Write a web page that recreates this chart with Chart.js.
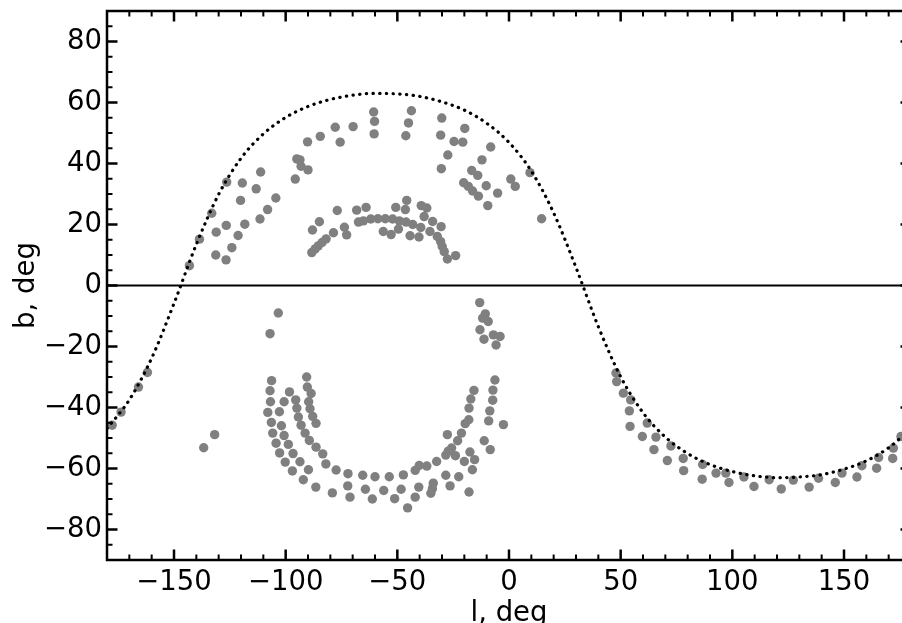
<!DOCTYPE html>
<html>
<head>
<meta charset="utf-8">
<script src="https://cdn.jsdelivr.net/npm/chart.js@4/dist/chart.umd.min.js"></script>
<style>
  html, body { margin: 0; padding: 0; background: #fff; overflow: hidden; }
  canvas { display: block; }
</style>
</head>
<body>
<canvas id="galChart" width="920" height="640"></canvas>
<script>
// tick labels
const xTicks = [-150, -100, -50, 0, 50, 100, 150];
const yTicks = [-80, -60, -40, -20, 0, 20, 40, 60, 80];

// dotted great circle, every 10 deg
const curveL = [-180, -170, -160, -150, -140, -130, -120, -110, -100, -90, -80, -70, -60, -50, -40, -30, -20, -10,
  0, 10, 20, 30, 40, 50, 60, 70, 80, 90, 100, 110, 120, 130, 140, 150, 160, 170, 180];
const curveB = [-46.9, -37.5, -23.8, -5.9, 13.5, 29.9, 41.7, 49.7, 55.1, 58.7, 61.0, 62.4, 63.0, 62.8, 62.0, 60.2, 57.5, 53.2,
  46.9, 37.5, 23.8, 5.9, -13.5, -29.9, -41.7, -49.7, -55.1, -58.7, -61.0, -62.4, -63.0, -62.8, -62.0, -60.2, -57.5, -53.2, -46.9];

// grey objects (l, b)
const objL = [
  -143.1, -138.6, -133.1, -126.4, -119.4, -111.2, -113.2, -120.2, -104.4, -108.1, -111.5, -118.3, -126.6, -131.1, -121.3, -124.1, -131.3, -126.7,
  -95.0, -93.6, -93.1, -90.0, -95.7,
  -90.2, -84.5, -77.8, -75.6, -69.8, -60.6, -60.2, -60.4, -43.7, -45.0, -46.2, -30.1, -30.6, -19.8, -24.6, -20.7, -27.4, -30.3,
  -8.2, -12.1, -16.7, -14.0, -20.3, -18.2, -16.3, -13.7, -10.2, -5.1, -9.5, 0.8, 2.8, 9.4, 14.6,
  -76.9, -84.9, -88.0, -73.7, -78.6, -72.7, -81.9, -83.7, -85.4, -86.8, -88.3, -68.2, -64.0,
  -67.4, -65.2, -61.9, -58.7, -55.4, -52.1, -49.1, -46.1, -43.1, -39.5, -35.4, -32.1, -30.6, -29.9, -29.0, -27.6, -23.9,
  -56.3, -52.8, -49.5, -44.3, -40.3, -50.7, -46.4, -45.8, -39.3, -36.8, -38.0, -34.2, -30.4,
  -177.7, -173.7, -165.9, -161.9, -131.8, -136.7,
  -103.3, -107.0,
  -106.3, -107.0, -106.8, -108.0, -106.4, -105.8, -104.3, -102.7, -100.2, -97.0, -92.1, -86.5, -79.1, -71.2, -61.2, -51.2, -45.4, -42.0, -35.0, -34.3, -33.9, -26.4, -17.9,
  -98.3, -100.7, -102.8, -101.9, -100.7, -98.8, -96.7, -93.6, -89.8,
  -95.5, -95.0, -94.3, -93.1, -91.3, -89.4, -86.4, -83.4,
  -90.6, -90.3, -88.6, -89.7, -89.1, -87.9, -86.4,
  -82.0, -77.4, -72.1, -65.5, -60.0, -53.6, -47.3, -42.0, -40.2, -36.8, -32.4, -28.3, -25.7, -27.2, -27.6, -23.0, -21.3, -19.6, -18.0, -17.9, -17.1, -15.7,
  -24.0, -20.0, -17.5, -15.4, -16.4, -22.5, -28.3, -40.4, -48.3, -56.1, -64.3, -72.2,
  -9.1, -8.6, -7.3, -7.2, -6.3, -2.5, -11.1, -8.4,
  -13.1, -10.6, -11.8, -9.3, -13.0, -11.2, -7.0, -4.0, -5.8,
  47.9, 48.2, 51.2, 54.5, 53.9, 54.2, 61.9, 59.7, 65.8, 64.9, 72.5, 70.9, 78.0, 78.2, 86.7, 86.5, 92.7, 97.1, 98.5, 105.2,
  109.7, 116.5, 121.9, 127.3, 134.4, 138.6, 146.1, 149.1, 155.8, 158.0, 164.6, 165.5, 171.8, 172.1, 175.5
];
const objB = [
  6.5, 15.2, 23.7, 33.9, 33.6, 37.2, 31.7, 27.9, 28.7, 24.9, 21.8, 20.1, 19.7, 17.5, 16.4, 12.4, 10.0, 8.4,
  41.5, 41.2, 39.1, 37.9, 34.9,
  47.1, 48.9, 51.9, 47.0, 52.1, 56.9, 53.8, 49.7, 57.3, 53.3, 49.1, 54.9, 49.3, 51.5, 47.2, 47.0, 42.8, 38.3,
  45.4, 41.2, 37.7, 36.1, 33.7, 32.5, 31.0, 29.3, 32.7, 30.3, 26.2, 34.9, 32.5, 37.0, 21.9,
  24.6, 20.9, 18.2, 19.1, 17.3, 16.6, 15.3, 14.1, 13.0, 12.0, 10.8, 24.7, 25.6,
  20.8, 21.2, 21.8, 21.9, 21.9, 21.8, 21.2, 20.8, 20.0, 19.0, 17.7, 16.1, 14.4, 12.8, 11.1, 8.7, 9.8,
  17.7, 16.7, 18.5, 16.3, 15.9, 25.6, 24.9, 27.9, 26.2, 25.4, 22.6, 21.0, 19.3,
  -45.8, -41.5, -33.3, -28.5, -48.9, -53.2,
  -9.0, -15.8,
  -31.2, -34.5, -38.1, -41.6, -44.9, -48.4, -51.7, -54.9, -57.9, -60.8, -63.7, -66.1, -68.0, -69.4, -70.0, -69.9, -72.9, -69.4, -68.1, -66.6, -64.8, -65.7, -67.7,
  -34.9, -38.1, -41.4, -46.0, -49.2, -52.1, -55.1, -57.8, -60.4,
  -37.5, -40.2, -43.1, -45.8, -48.4, -50.8, -53.0, -55.2,
  -30.0, -33.3, -35.4, -38.1, -40.4, -42.9, -45.2,
  -58.5, -60.5, -61.7, -62.2, -62.7, -62.7, -62.1, -60.6, -59.0, -59.2, -57.7, -55.6, -53.3, -54.3, -48.9, -50.9, -48.4, -45.3, -44.0, -40.2, -37.2, -34.4,
  -55.8, -57.7, -54.6, -57.1, -60.4, -62.7, -62.2, -66.1, -66.8, -67.2, -66.8, -65.7,
  -44.4, -41.1, -37.6, -34.3, -31.0, -45.6, -50.9, -53.8,
  -5.6, -9.3, -10.7, -11.8, -14.5, -17.6, -16.2, -16.7, -19.5,
  -28.7, -31.5, -35.3, -37.5, -41.1, -46.2, -45.1, -49.5, -49.7, -53.8, -52.6, -57.4, -56.7, -60.7, -58.7, -63.5, -61.5, -61.5, -64.6, -62.8,
  -65.9, -63.7, -66.7, -63.8, -66.1, -63.2, -64.6, -61.5, -62.8, -59.1, -59.9, -56.4, -56.7, -53.3, -49.5
];

Chart.defaults.font.family = "'DejaVu Sans', sans-serif";
Chart.defaults.color = "#000";

// inward ticks on all four sides, the frame and the b = 0 line
const axisFrame = {
  id: "axisFrame",
  beforeDatasetsDraw(chart) {
    const { ctx, chartArea: a, scales: { y } } = chart;
    const y0 = y.getPixelForValue(0);
    ctx.save();
    ctx.strokeStyle = "#000";
    ctx.lineWidth = 2;
    ctx.beginPath();
    ctx.moveTo(a.left, y0);
    ctx.lineTo(a.right, y0);
    ctx.stroke();
    ctx.restore();
  },
  afterDraw(chart) {
    const { ctx, chartArea: a, scales: { x, y } } = chart;
    ctx.save();
    ctx.strokeStyle = "#000";
    for (let v = -180; v <= 180; v += 10) {
      const major = xTicks.includes(v);
      const len = major ? 10.5 : 5.5;
      const px = x.getPixelForValue(v);
      ctx.lineWidth = major ? 2.5 : 2;
      ctx.beginPath();
      ctx.moveTo(px, a.bottom); ctx.lineTo(px, a.bottom - len);
      ctx.moveTo(px, a.top); ctx.lineTo(px, a.top + len);
      ctx.stroke();
    }
    for (let v = -90; v <= 90; v += 5) {
      const major = yTicks.includes(v);
      const len = major ? 10.5 : 5.5;
      const py = y.getPixelForValue(v);
      ctx.lineWidth = major ? 2.5 : 2;
      ctx.beginPath();
      ctx.moveTo(a.left, py); ctx.lineTo(a.left + len, py);
      ctx.moveTo(a.right, py); ctx.lineTo(a.right - len, py);
      ctx.stroke();
    }
    ctx.lineWidth = 2.5;
    ctx.strokeRect(a.left, a.top, a.right - a.left, a.bottom - a.top);
    ctx.restore();
  }
};

new Chart(document.getElementById("galChart"), {
  type: "scatter",
  data: {
    datasets: [
      {
        label: "plane",
        data: curveL.map((l, i) => ({ x: l, y: curveB[i] })),
        showLine: true,
        pointRadius: 0,
        borderColor: "#000",
        borderWidth: 3.2,
        borderDash: [0.3, 6.4],
        borderCapStyle: "round",
        cubicInterpolationMode: "monotone",
        order: 0
      },
      {
        label: "objects",
        data: objL.map((l, i) => ({ x: l, y: objB[i] })),
        pointRadius: 4.7,
        pointBorderWidth: 0,
        backgroundColor: "#808080",
        borderColor: "#808080",
        order: 1
      }
    ]
  },
  options: {
    responsive: false,
    animation: false,
    layout: { padding: { top: 11, right: 9, bottom: 0, left: 0 } },
    plugins: { legend: { display: false }, tooltip: { enabled: false } },
    scales: {
      x: {
        type: "linear",
        min: -180,
        max: 180,
        afterBuildTicks: (s) => { s.ticks = xTicks.map((v) => ({ value: v })); },
        afterFit: (s) => { s.height = 80; s.paddingLeft = 0; s.paddingRight = 0; },
        ticks: { font: { size: 27.5 }, padding: 6, maxRotation: 0, autoSkip: false,
                 callback: (v) => String(v).replace("-", "\u2212") },
        grid: { display: false, drawTicks: false },
        border: { display: false },
        title: { display: true, text: "l, deg", font: { size: 27.5 }, padding: { top: 0, bottom: 10 } }
      },
      y: {
        type: "linear",
        min: -90,
        max: 90,
        afterBuildTicks: (s) => { s.ticks = yTicks.map((v) => ({ value: v })); },
        afterFit: (s) => { s.width = 107; s.paddingTop = 0; s.paddingBottom = 0; },
        ticks: { font: { size: 27.5 }, padding: 5,
                 callback: (v) => String(v).replace("-", "\u2212") },
        grid: { display: false, drawTicks: false },
        border: { display: false },
        title: { display: true, text: "b, deg", font: { size: 27.5 }, padding: { top: 10.5, bottom: 0 } }
      }
    }
  },
  plugins: [axisFrame]
});
</script>
</body>
</html>
